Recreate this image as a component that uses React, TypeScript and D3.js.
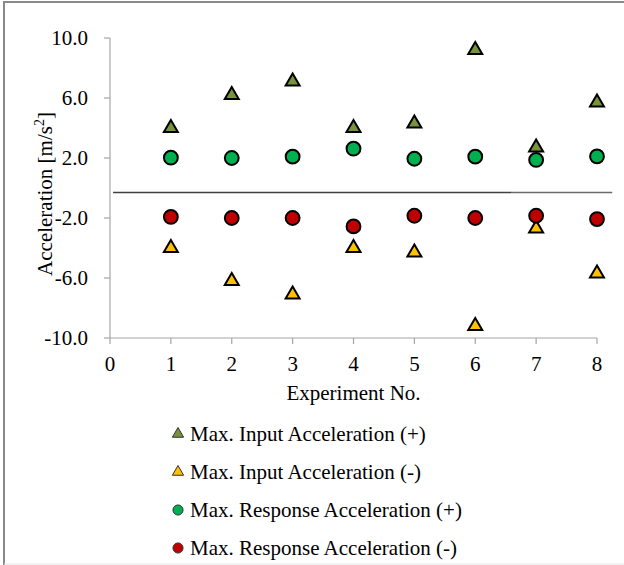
import * as d3 from "d3";
import { useEffect, useRef } from "react";

const experiments = [1, 2, 3, 4, 5, 6, 7, 8];
const inputPos = [4.0, 6.2, 7.1, 4.0, 4.3, 9.2, 2.7, 5.7];
const inputNeg = [-4.0, -6.2, -7.1, -4.0, -4.3, -9.2, -2.7, -5.7];
const responsePos = [2.02, 2.0, 2.09, 2.62, 1.95, 2.09, 1.87, 2.11];
const responseNeg = [-1.93, -2.0, -2.0, -2.56, -1.85, -2.0, -1.85, -2.07];
const yTicks = [10, 6, 2, -2, -6, -10];
const xTicks = [0, 1, 2, 3, 4, 5, 6, 7, 8];
const seriesNames = [
  "Max. Input Acceleration (+)",
  "Max. Input Acceleration (-)",
  "Max. Response Acceleration (+)",
  "Max. Response Acceleration (-)",
];
// hand drawn separator line in the original (x from, x break, x to, y)
const sepLine = { x0: 0.05, x1: 6.6, x2: 8.25, y: -0.3 };

export default function App() {
  const ref = useRef<SVGSVGElement>(null);

  useEffect(() => {
    const width = 624;
    const height = 565;
    const fs = 21;
    const svg = d3.select(ref.current);
    svg.selectAll("*").remove();

    const x = d3.scaleLinear().domain([0, 8]).range([110, 597]);
    const y = d3.scaleLinear().domain([-10, 10]).range([338, 38]);

    // frame
    svg.append("line").attr("x1", 4).attr("x2", width).attr("y1", 2).attr("y2", 2)
      .attr("stroke", "#8a8a8a").attr("stroke-width", 2);
    svg.append("line").attr("x1", 4).attr("x2", 4).attr("y1", 1).attr("y2", height)
      .attr("stroke", "#8a8a8a").attr("stroke-width", 2);
    svg.append("line").attr("x1", 4).attr("x2", width).attr("y1", 564).attr("y2", 564)
      .attr("stroke", "#e4e4e4").attr("stroke-width", 1);

    const axisColor = "#a6a6a6";

    // y axis
    svg.append("line").attr("x1", x(0)).attr("x2", x(0)).attr("y1", y(10)).attr("y2", y(-10))
      .attr("stroke", axisColor).attr("stroke-width", 1.2);
    const yt = svg.append("g").selectAll("g").data(yTicks).join("g")
      .attr("transform", (d) => `translate(0,${y(d)})`);
    yt.append("line").attr("x1", x(0) - 6).attr("x2", x(0)).attr("stroke", axisColor).attr("stroke-width", 1.2);
    yt.append("text").attr("x", x(0) - 22).attr("dy", "0.35em").attr("text-anchor", "end")
      .attr("font-size", fs).attr("fill", "#000")
      .text((d) => d3.format(".1f")(d).replace("−", "-"));

    // x axis
    svg.append("line").attr("x1", x(0)).attr("x2", x(8)).attr("y1", y(-10)).attr("y2", y(-10))
      .attr("stroke", axisColor).attr("stroke-width", 1.2);
    const xt = svg.append("g").selectAll("g").data(xTicks).join("g")
      .attr("transform", (d) => `translate(${x(d)},${y(-10)})`);
    xt.append("line").attr("y1", 0).attr("y2", 6).attr("stroke", axisColor).attr("stroke-width", 1.2);
    xt.append("text").attr("y", 33).attr("text-anchor", "middle")
      .attr("font-size", fs).attr("fill", "#000")
      .text((d) => String(d));

    svg.append("text").attr("x", x(4)).attr("y", 400).attr("text-anchor", "middle")
      .attr("font-size", fs).text("Experiment No.");

    const yl = svg.append("text").attr("transform", `translate(52,${y(0) + 6}) rotate(-90)`)
      .attr("text-anchor", "middle").attr("font-size", fs);
    yl.append("tspan").text("Acceleration [m/s");
    yl.append("tspan").attr("font-size", 14).attr("dy", -8).text("2");
    yl.append("tspan").attr("dy", 8).text("]");

    // separator line
    svg.append("line").attr("x1", x(sepLine.x0)).attr("x2", x(sepLine.x1))
      .attr("y1", y(sepLine.y)).attr("y2", y(sepLine.y)).attr("stroke", "#404040").attr("stroke-width", 1.5);
    svg.append("line").attr("x1", x(sepLine.x1)).attr("x2", x(sepLine.x2))
      .attr("y1", y(sepLine.y)).attr("y2", y(sepLine.y)).attr("stroke", "#6a6a6a").attr("stroke-width", 1.5);

    const tri = d3.symbol().type(d3.symbolTriangle).size(85);
    const circ = d3.symbol().type(d3.symbolCircle).size(150);

    const series = [
      { values: inputPos, color: "#77933c", shape: tri },
      { values: inputNeg, color: "#ffc000", shape: tri },
      { values: responsePos, color: "#00b050", shape: circ },
      { values: responseNeg, color: "#c00000", shape: circ },
    ];

    series.forEach((s) => {
      svg.append("g").selectAll("path").data(s.values).join("path")
        .attr("transform", (d, i) => `translate(${x(experiments[i])},${y(d)})`)
        .attr("d", s.shape() as string)
        .attr("fill", s.color).attr("stroke", "#000").attr("stroke-width", 2);
    });

    // legend
    const legTri = d3.symbol().type(d3.symbolTriangle).size(55);
    const legCirc = d3.symbol().type(d3.symbolCircle).size(80);
    const lg = svg.append("g").selectAll("g").data(series).join("g")
      .attr("transform", (d, i) => `translate(178,${434 + i * 38})`);
    lg.append("path").attr("d", (d, i) => (i < 2 ? legTri() : legCirc()) as string)
      .attr("fill", (d) => d.color).attr("stroke", "#333").attr("stroke-width", 1);
    lg.append("text").attr("x", 12).attr("dy", "0.35em")
      .attr("font-size", fs).attr("fill", "#000")
      .text((d, i) => seriesNames[i]);
  }, []);

  return (
    <svg
      ref={ref}
      width={624}
      height={565}
      style={{
        position: "absolute",
        left: 0,
        top: 0,
        background: "#fff",
        fontFamily: "'Times New Roman', 'Liberation Serif', 'DejaVu Serif', serif",
      }}
    />
  );
}
